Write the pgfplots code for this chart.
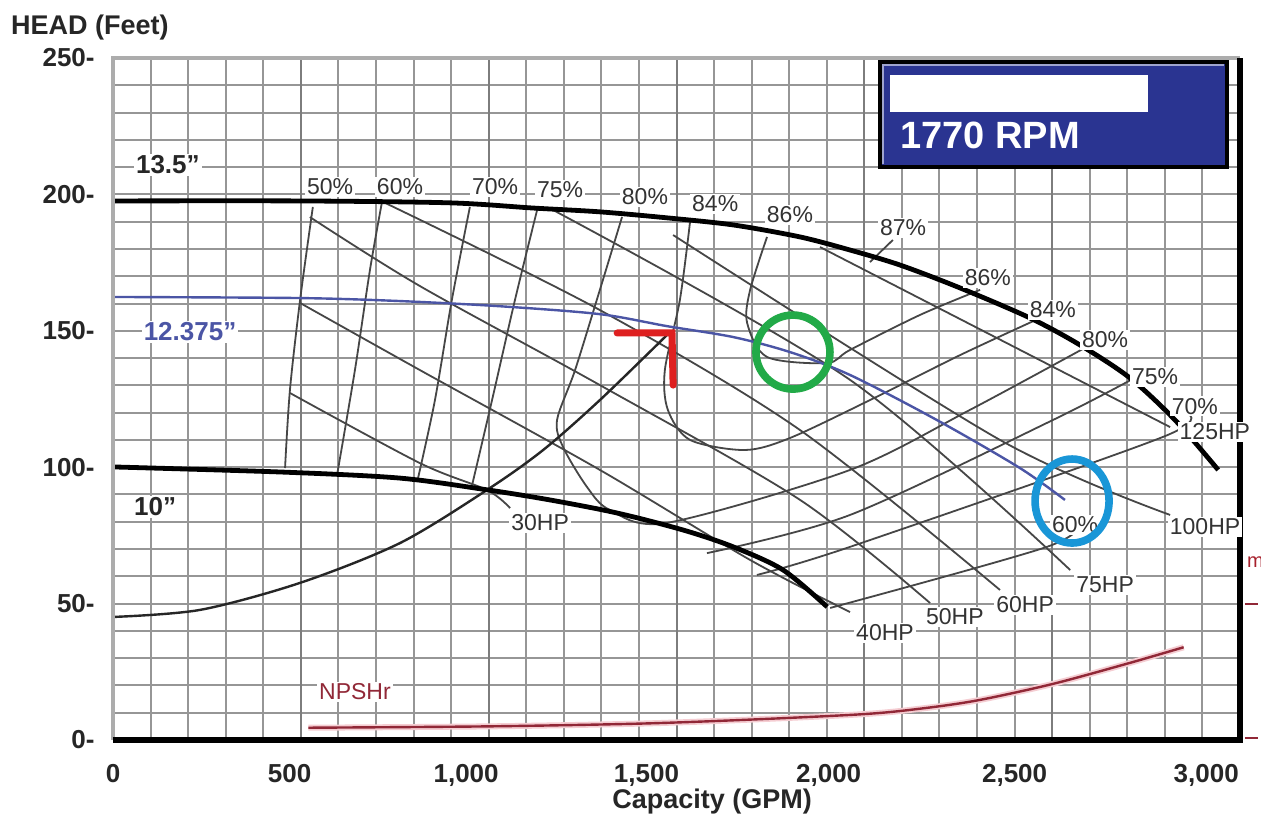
\documentclass[border=0pt]{standalone}
\usepackage{fontspec}
\setmainfont{Liberation Sans}
\usepackage{pgfplots}
\pgfplotsset{compat=1.18}
\definecolor{gridc}{RGB}{150,150,150}
\definecolor{gridd}{RGB}{125,125,125}
\definecolor{effc}{RGB}{70,70,70}
\definecolor{impblue}{RGB}{75,85,165}
\definecolor{npshc}{RGB}{145,40,55}
\definecolor{npshh}{RGB}{245,205,210}
\definecolor{rpmblue}{RGB}{42,52,145}
\definecolor{ringgreen}{RGB}{34,170,72}
\definecolor{ringblue}{RGB}{25,150,215}
\definecolor{markred}{RGB}{222,32,32}
\begin{document}
\begin{tikzpicture}
\path[use as bounding box, fill=white] (-56.5pt,-39pt) rectangle (574pt,370pt);
\begin{axis}[
  at={(0,0)}, anchor=south west,
  scale only axis, width=563.5pt, height=341pt,
  xmin=0, xmax=3000, ymin=0, ymax=250,
  axis line style={draw=none},
  xtick={0,470,940,1420,1905,2400,2910},
  xticklabels={0,500,{1,000},{1,500},{2,000},{2,500},{3,000}},
  ytick={0,50,...,250},
  yticklabels={0-,50-,100-,150-,200-,250-},
  major tick length=0pt, minor tick length=0pt,
  minor xtick={0,100,...,3000}, minor ytick={0,10,...,250},
  xminorgrids, yminorgrids,
  minor grid style={gridc, line width=1pt},
  extra x ticks={500,1000,1500,2000,2500},
  extra x tick labels={},
  extra x tick style={xmajorgrids, major grid style={gridd, line width=1pt}},
  tick label style={font=\fontsize{13}{15}\selectfont\bfseries, text=black!85},
  xticklabel style={anchor=north, inner sep=0pt, yshift=-12pt},
  yticklabel style={anchor=east, inner sep=0pt, xshift=-9pt},
  clip=false,
]
% NPSHr
\addplot[npshh, line width=3pt, smooth] coordinates {(520,4.5)(1000,5.0)(1400,6.0)(1700,7.5)(2000,9.5)(2150,11.5)(2300,14.5)(2500,20.5)(2700,28)(2850,34)};
\addplot[npshc, line width=1.2pt, smooth] coordinates {(520,4.5)(1000,5.0)(1400,6.0)(1700,7.5)(2000,9.5)(2150,11.5)(2300,14.5)(2500,20.5)(2700,28)(2850,34)};
% efficiency contours
\addplot[effc, line width=0.9pt, smooth] coordinates {(532,195.4)(498,161.3)(471,128.3)(458,99.7)};
\addplot[effc, line width=0.9pt, smooth] coordinates {(716,197.2)(684,172.3)(644,135.6)(596,96.8)};
\addplot[effc, line width=0.9pt, smooth] coordinates {(950,195.4)(902,161.3)(857,124.6)(812,96.0)};
\addplot[effc, line width=0.9pt, smooth] coordinates {(1129,194.3)(1070,161.3)(1009,124.6)(956,93.5)};
\addplot[effc, line width=0.9pt, smooth] coordinates {(1355,191.7)(1296,165.0)(1230,135.6)(1182,117.3)(1198,107.4)(1262,92.7)(1323,84.3)(1475,79.6)(1962,99.0)(2281,121.0)(2601,144.8)};
\addplot[effc, line width=0.9pt, smooth] coordinates {(1536,189.9)(1509,161.3)(1469,135.6)(1477,121.0)(1536,110.0)(1682,106.3)(1802,110.7)(2015,124.6)(2255,141.1)(2468,154.7)};
\addplot[effc, line width=0.9pt, smooth] coordinates {(1741,184.4)(1696,165.0)(1688,152.9)(1741,140.4)(1901,138.2)(1962,143.0)(2148,155.8)(2308,165.0)};
\addplot[effc, line width=0.9pt] coordinates {(2015,175.2)(2076,183.3)};
\addplot[effc, line width=0.9pt, smooth] coordinates {(1581,68.5)(1962,82.5)(2502,117.3)(2734,133.8)};
\addplot[effc, line width=0.9pt, smooth] coordinates {(1714,60.5)(1962,70.8)(2795,111.1)(2854,119.9)};
\addplot[effc, line width=0.9pt, smooth] coordinates {(1909,48.4)(2486,70.8)(2587,80.7)};
% HP lines
\addplot[effc, line width=0.9pt, smooth] coordinates {(471,127.2)(817,101.5)(996,91.6)(1057,85.0)};
\addplot[effc, line width=0.9pt, smooth] coordinates {(498,160.2)(817,135.6)(1296,99.0)(1696,66.0)(1962,46.9)};
\addplot[effc, line width=0.9pt, smooth] coordinates {(524,191.7)(817,166.4)(1296,130.1)(1829,88.0)(2175,50.2)};
\addplot[effc, line width=0.9pt, smooth] coordinates {(724,196.9)(1296,157.6)(1829,113.6)(2361,55.0)};
\addplot[effc, line width=0.9pt, smooth] coordinates {(1171,194.3)(1962,132.0)(2548,62.3)};
\addplot[effc, line width=0.9pt, smooth] coordinates {(1491,185.1)(2361,110.0)(2814,82.5)};
\addplot[effc, line width=0.9pt, smooth] coordinates {(1882,180.7)(2814,114.7)};
% system curve
\addplot[black!85, line width=1.2pt, smooth] coordinates {(0,45.1)(232,47.7)(498,57.6)(764,72.2)(996,91.7)(1145,106.3)(1296,124.6)(1475,148.5)};
% impeller curves
\addplot[black, line width=2.4pt, smooth] coordinates {(0,197.6)(498,197.6)(897,196.9)(1118,195.0)(1296,193.6)(1475,191.4)(1651,188.8)(1829,184.4)(1962,179.6)(2095,174.1)(2255,165.7)(2441,154.7)(2574,144.8)(2707,132.7)(2827,117.3)(2942,99.0)};
\addplot[impblue, line width=1.2pt, smooth] coordinates {(0,162.4)(498,162.0)(764,160.9)(1030,159.0)(1296,156.1)(1475,151.7)(1651,147.7)(1802,142.2)(1962,133.8)(2193,117.3)(2414,99.7)(2534,88.0)};
\addplot[black, line width=2.4pt, smooth] coordinates {(0,100.1)(453,98.2)(764,96.0)(996,91.7)(1163,88.0)(1342,83.2)(1517,77.0)(1651,70.8)(1784,62.3)(1901,48.8)};
% frame
\draw[gray!65, line width=2.2pt] (rel axis cs:0,0) -- (rel axis cs:0,1) -- (rel axis cs:1,1);
\draw[black, line width=2.6pt] (rel axis cs:0,0) -- (rel axis cs:1,0) -- (rel axis cs:1,1);
% labels
\begin{scope}[every node/.style={fill=white, inner sep=1pt, text=black!80, font=\fontsize{11.5}{13}\selectfont}]
\node at (axis cs:578,202.7) {50\%};
\node at (axis cs:764,202.7) {60\%};
\node at (axis cs:1017,202.7) {70\%};
\node at (axis cs:1190,201.6) {75\%};
\node at (axis cs:1416,199.1) {80\%};
\node at (axis cs:1603,196.5) {84\%};
\node at (axis cs:1802,192.5) {86\%};
\node at (axis cs:2103,187.7) {87\%};
\node at (axis cs:2329,169.4) {86\%};
\node at (axis cs:2502,157.6) {84\%};
\node at (axis cs:2641,146.6) {80\%};
\node at (axis cs:2774,133.1) {75\%};
\node at (axis cs:2880,122.4) {70\%};
\node at (axis cs:2933,112.9) {125HP};
\node at (axis cs:2561,78.8) {60\%};
\node at (axis cs:2907,78.1) {100HP};
\node at (axis cs:2641,56.8) {75HP};
\node at (axis cs:2428,49.5) {60HP};
\node at (axis cs:2241,45.1) {50HP};
\node at (axis cs:2055,39.2) {40HP};
\node at (axis cs:1137,79.6) {30HP};
\node[text=npshc] at (axis cs:644,17.6) {NPSHr};
\node[font=\fontsize{13}{15}\selectfont\bfseries, text=black!85] at (axis cs:146,210.8) {13.5"};
\node[font=\fontsize{13}{15}\selectfont\bfseries, text=impblue] at (axis cs:205,149.6) {12.375"};
\node[font=\fontsize{13}{15}\selectfont\bfseries, text=black!85] at (axis cs:112,85.4) {10"};
\end{scope}
% annotations
\addplot[markred, line width=3.5pt, line cap=round] coordinates {(1342,149.2)(1488,149.2)(1491,130.1)};
\draw[ringgreen, line width=3.8pt] (axis cs:1810,142.2) circle[radius=18.5pt];
\draw[ringblue, line width=3.8pt] (axis cs:2553,87.6) ellipse[x radius=18.5pt, y radius=21pt];
% RPM box
\draw[fill=rpmblue, draw=black, line width=1.8pt] (axis cs:2042,248.6) rectangle (axis cs:2965,210.0);
\draw[rpmblue!45!white, line width=0.8pt] (axis cs:2050,211.3) -- (axis cs:2050,247.4) -- (axis cs:2957,247.4);
\fill[white] (axis cs:2068,243.8) rectangle (axis cs:2755,230.2);
\node[text=white, font=\fontsize{19}{22}\selectfont\bfseries] at (axis cs:2335,221.8) {1770 RPM};
% titles
\node[font=\fontsize{13.5}{16}\selectfont\bfseries, text=black!85, xshift=-11.5pt, yshift=15pt] at (axis cs:0,250) {HEAD (Feet)};
\node[font=\fontsize{13.5}{16}\selectfont\bfseries, text=black!85, yshift=-31pt] at (axis cs:1595,0) {Capacity (GPM)};
% edge marks
\draw[npshc, line width=0.8pt] (axis cs:3013,49.8) -- (axis cs:3048,49.8);
\draw[npshc, line width=0.8pt] (axis cs:3013,0.7) -- (axis cs:3048,0.7);
\node[text=npshc!80!red, font=\fontsize{10}{12}\selectfont, anchor=west, inner sep=0pt] at (axis cs:3018,65.3) {m};
\end{axis}
\end{tikzpicture}
\end{document}
